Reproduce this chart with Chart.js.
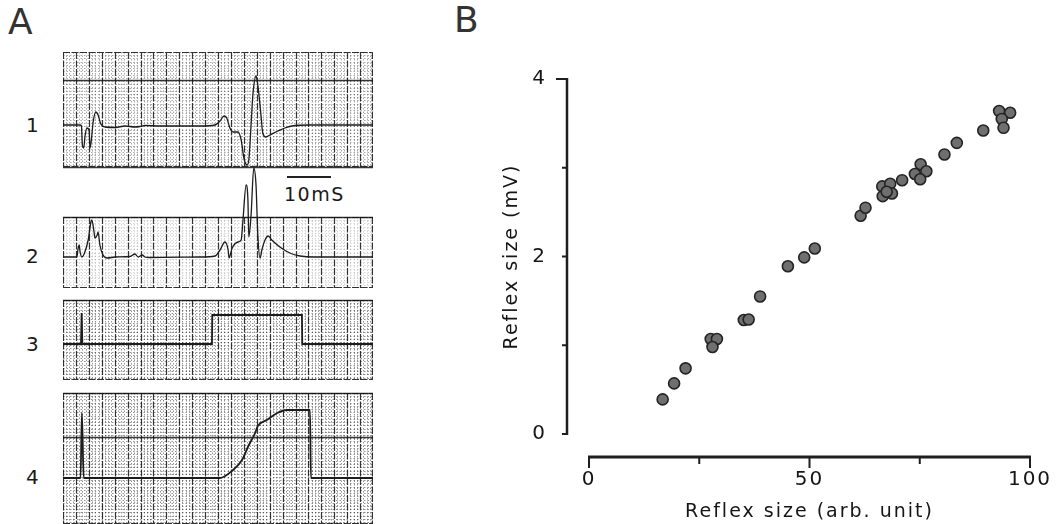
<!DOCTYPE html>
<html>
<head>
<meta charset="utf-8">
<script src="https://cdn.jsdelivr.net/npm/chart.js@4.4.0/dist/chart.umd.min.js"></script>
<style>
body { margin: 0; background: #fff; }
#wrap { position: relative; width: 1060px; height: 524px; overflow: hidden; font-family: "DejaVu Sans", sans-serif; color: #1a1a1a; }
#wrap canvas { position: absolute; }
.lbl { position: absolute; line-height: 1; white-space: nowrap; }
</style>
</head>
<body>
<div id="wrap">
  <div class="lbl" style="left:8px;top:4px;font-size:36px;color:#333">A</div>
  <div class="lbl" style="left:454px;top:2px;font-size:36px;color:#333">B</div>
  <div class="lbl" style="left:26px;top:115px;font-size:20px">1</div>
  <div class="lbl" style="left:26px;top:246px;font-size:20px">2</div>
  <div class="lbl" style="left:26px;top:334px;font-size:20px">3</div>
  <div class="lbl" style="left:26px;top:467px;font-size:20px">4</div>
  <div style="position:absolute;left:287px;top:176px;width:44px;height:2px;background:#222"></div>
  <div class="lbl" style="left:284px;top:185px;font-size:19px;letter-spacing:1.5px">10mS</div>
  <canvas id="tr1" width="310" height="124" style="left:63px;top:48px"></canvas>
  <canvas id="tr2" width="310" height="126" style="left:63px;top:164px"></canvas>
  <canvas id="tr3" width="310" height="86" style="left:63px;top:297px"></canvas>
  <canvas id="tr4" width="310" height="134" style="left:63px;top:390px"></canvas>
  <canvas id="scatter" width="590" height="484" style="left:470px;top:40px"></canvas>
</div>
<script>
// panel A traces: time (ms) and amplitude (arbitrary units, 0 = baseline)
const t1 = [0, 3.8, 4.1, 4.3, 4.6, 4.9, 5.3, 5.8, 6.0, 6.3, 6.7, 7.3, 7.8, 8.4, 9.3, 11.6, 13.8, 16.0, 17.1, 18.2, 21.6, 30.4, 33.8, 34.9, 35.8, 36.4, 37.1, 37.8, 38.9, 39.6, 40.2, 40.9, 41.3, 41.8, 42.2, 42.9, 43.3, 44.0, 44.4, 45.1, 46.0, 47.8, 49.3, 50.9, 54.9, 68.9];
const v1 = [0, 0, -0.1, -2.0, -2.3, -1.1, -0.3, -0.5, -2.3, -1.5, 0.3, 1.3, 1.0, 0.1, -0.2, -0.25, -0.1, -0.2, -0.15, -0.05, -0.1, -0.1, 0, 0.4, 0.9, 0.7, -0.3, -0.7, -0.7, -1.5, -3.3, -4.0, -3.5, 0, 3.0, 4.9, 4.0, 1.0, -0.8, -1.2, -1.0, -0.6, -0.3, -0.1, 0, 0];
const t2 = [0, 3.1, 3.3, 3.6, 3.8, 4.2, 4.7, 5.6, 6.2, 6.4, 6.9, 7.1, 7.6, 7.8, 8.2, 8.9, 9.8, 11.6, 14.9, 16.0, 16.7, 17.6, 18.2, 19.3, 30.4, 33.8, 34.9, 36.0, 36.7, 36.9, 37.6, 38.9, 39.6, 40.0, 40.7, 41.1, 41.3, 41.8, 42.4, 42.9, 43.3, 43.8, 44.2, 44.9, 45.6, 46.4, 48.2, 50.4, 52.7, 55.6, 68.9];
const v2 = [0, 0, 0.7, 1.2, 0.5, 0, 0.3, 1.7, 3.5, 3.7, 2.5, 1.9, 2.2, 2.5, 1.2, 0.2, -0.1, 0, 0.05, 0.3, 0, 0.2, 0, -0.05, 0, 0.1, 0.7, 1.5, 0.7, -0.1, 0.9, 1.5, 1.7, 3.7, 7.2, 5.7, 2.0, 4.2, 8.9, 7.2, 2.2, -0.1, 0.7, 1.7, 2.1, 1.7, 1.0, 0.4, 0.1, 0, 0];
const t3 = [0, 4.0, 4.15, 4.3, 33.1, 33.18, 53.1, 53.18, 68.9];
const v3 = [0, 0, 3.1, 0, 0, 2.9, 2.9, 0, 0];
const t4 = [0, 3.9, 4.2, 4.6, 34.9, 37.8, 39.8, 41.1, 42.7, 43.3, 45.3, 47.6, 49.8, 54.9, 55.1, 68.9];
const v4 = [0, 0, 6.5, 0, 0, 0.8, 1.8, 3.1, 4.5, 5.2, 5.8, 6.5, 6.8, 6.8, 0, 0];

// panel B scatter
const reflexArb = [16.7, 19.3, 21.9, 27.6, 29.0, 28.0, 35.1, 36.2, 38.8, 45.1, 48.8, 51.2, 61.6, 62.7, 66.5, 68.3, 66.6, 68.7, 67.5, 71.0, 73.9, 75.2, 76.5, 75.1, 80.6, 83.4, 89.4, 93.0, 95.5, 93.6, 94.0];
const reflexMV = [0.39, 0.57, 0.74, 1.07, 1.07, 0.98, 1.285, 1.29, 1.55, 1.89, 1.99, 2.09, 2.46, 2.55, 2.79, 2.82, 2.68, 2.71, 2.73, 2.86, 2.93, 3.04, 2.96, 2.87, 3.15, 3.28, 3.42, 3.64, 3.62, 3.55, 3.45];
const xTicks = [0, 25, 50, 75, 100];
const yTicks = [0, 1, 2, 3, 4];

const FONT = '"DejaVu Sans", sans-serif';

// chart-paper background under each trace
const paperGrid = {
  id: 'paperGrid',
  beforeDatasetsDraw(chart, args, o) {
    const ctx = chart.ctx, a = chart.chartArea;
    const top = o.top, bottom = o.bottom;
    const step = (a.right - a.left) / 24;
    ctx.save();
    ctx.lineWidth = 1;
    ctx.strokeStyle = 'rgba(0,0,0,' + o.minor + ')';
    ctx.setLineDash([1.5, 2]);
    ctx.beginPath();
    for (let y = top + step / 4; y < bottom - 1; y += step / 4) {
      ctx.moveTo(a.left, Math.round(y) + 0.5);
      ctx.lineTo(a.right, Math.round(y) + 0.5);
    }
    for (let i = 1; i < 96; i++) {
      if (i % 4 === 0) continue;
      const x = Math.round(a.left + i * step / 4) + 0.5;
      ctx.moveTo(x, top);
      ctx.lineTo(x, bottom);
    }
    ctx.stroke();
    ctx.strokeStyle = 'rgba(15,15,15,0.85)';
    ctx.lineWidth = 1.2;
    ctx.setLineDash([7, 1.5]);
    ctx.beginPath();
    for (let i = 0; i <= 24; i++) {
      const x = Math.min(a.right - 0.6, Math.round(a.left + i * step) + 0.5);
      ctx.moveTo(x, top);
      ctx.lineTo(x, bottom);
    }
    ctx.moveTo(a.left, top + 0.5);
    ctx.lineTo(a.right, top + 0.5);
    ctx.moveTo(a.left, bottom - 0.5);
    ctx.lineTo(a.right, bottom - 0.5);
    ctx.stroke();
    ctx.setLineDash([]);
    ctx.strokeStyle = 'rgba(20,20,20,0.85)';
    ctx.lineWidth = 1.3;
    ctx.beginPath();
    o.lines.forEach(y => { ctx.moveTo(a.left, y); ctx.lineTo(a.right, y); });
    ctx.stroke();
    ctx.restore();
  }
};

// canvas top, baseline, grid top/bottom and solid lines, all in page px
const panels = [
  { id: 'tr1', t: t1, v: v1, top: 48, h: 124, base: 125, gTop: 52, gBot: 167, lines: [80, 167], minor: 0.33, w: 1.3, smooth: true },
  { id: 'tr2', t: t2, v: v2, top: 164, h: 126, base: 257, gTop: 217, gBot: 288, lines: [217], minor: 0.16, w: 1.3, smooth: true },
  { id: 'tr3', t: t3, v: v3, top: 297, h: 86, base: 344, gTop: 300, gBot: 380, lines: [300], minor: 0.42, w: 1.8, smooth: false },
  { id: 'tr4', t: t4, v: v4, top: 390, h: 134, base: 478, gTop: 393, gBot: 524, lines: [393, 437], minor: 0.42, w: 1.8, smooth: true }
];

panels.forEach(p => {
  new Chart(document.getElementById(p.id), {
    type: 'line',
    data: {
      datasets: [{
        data: p.t.map((x, i) => ({ x: x, y: p.v[i] })),
        borderColor: '#1c1c1c',
        borderWidth: p.w,
        pointRadius: 0,
        fill: false,
        tension: 0,
        cubicInterpolationMode: p.smooth ? 'monotone' : 'default'
      }]
    },
    options: {
      responsive: false,
      animation: false,
      layout: { padding: 0 },
      plugins: {
        legend: { display: false },
        tooltip: { enabled: false },
        paperGrid: { top: p.gTop - p.top, bottom: Math.min(p.gBot, p.top + p.h) - p.top, lines: p.lines.map(y => y - p.top + 0.5), minor: p.minor }
      },
      scales: {
        x: { type: 'linear', display: false, min: 0, max: 68.9 },
        y: { type: 'linear', display: false, min: (p.base - p.top - p.h) / 10, max: (p.base - p.top) / 10 }
      }
    },
    plugins: [paperGrid]
  });
});

// detached axes drawn from the scatter chart's scales
const detachedAxes = {
  id: 'detachedAxes',
  beforeDraw(chart) { chart.ctx.letterSpacing = '2px'; },
  afterDraw(chart) {
    const ctx = chart.ctx, xs = chart.scales.x, ys = chart.scales.y;
    const ax = xs.getPixelForValue(0) - 22;
    const ay = ys.getPixelForValue(0) + 23;
    ctx.save();
    ctx.strokeStyle = '#1e1e1e';
    ctx.lineCap = 'butt';
    ctx.lineWidth = 2.5;
    ctx.beginPath();
    ctx.moveTo(ax, ys.getPixelForValue(4) - 1);
    ctx.lineTo(ax, ys.getPixelForValue(0) + 1);
    ctx.stroke();
    ctx.lineWidth = 2;
    ctx.beginPath();
    yTicks.forEach(v => {
      const y = ys.getPixelForValue(v);
      const len = v === 4 ? 11 : 5;
      ctx.moveTo(ax - len, y);
      ctx.lineTo(ax, y);
    });
    ctx.stroke();
    ctx.lineWidth = 3;
    ctx.beginPath();
    ctx.moveTo(xs.getPixelForValue(0) - 1, ay);
    ctx.lineTo(xs.getPixelForValue(100) + 1, ay);
    ctx.stroke();
    ctx.lineWidth = 2;
    ctx.beginPath();
    xTicks.forEach(v => {
      const x = xs.getPixelForValue(v);
      const len = v % 50 === 0 ? 11 : 7;
      ctx.moveTo(x, ay);
      ctx.lineTo(x, ay + len);
    });
    ctx.stroke();
    ctx.restore();
  }
};

new Chart(document.getElementById('scatter'), {
  type: 'scatter',
  data: {
    datasets: [{
      data: reflexArb.map((x, i) => ({ x: x, y: reflexMV[i] })),
      pointRadius: 5.5,
      backgroundColor: '#6f6f6f',
      borderColor: '#242424',
      borderWidth: 1.6
    }]
  },
  options: {
    responsive: false,
    animation: false,
    layout: { padding: { top: 39, right: 30, left: 0, bottom: 0 } },
    plugins: { legend: { display: false }, tooltip: { enabled: false } },
    scales: {
      x: {
        type: 'linear', min: 0, max: 100,
        afterFit(s) { s.height = 90; s.paddingLeft = 0; s.paddingRight = 0; },
        grid: { display: false, drawTicks: false },
        border: { display: false },
        ticks: { stepSize: 25, autoSkip: false, maxRotation: 0, padding: 34, color: '#151515', font: { family: FONT, size: 20 },
          callback: v => (v % 50 === 0 ? v : '') },
        title: { display: true, text: 'Reflex size (arb. unit)', color: '#151515', font: { family: FONT, size: 19 }, padding: { top: 0, bottom: 1 } }
      },
      y: {
        type: 'linear', min: 0, max: 4,
        afterFit(s) { s.width = 119; s.paddingTop = 0; s.paddingBottom = 0; },
        grid: { display: false, drawTicks: false },
        border: { display: false },
        ticks: { stepSize: 1, autoSkip: false, padding: 42, color: '#151515', font: { family: FONT, size: 20 },
          callback: v => (v % 2 === 0 ? v : '') },
        title: { display: true, text: 'Reflex size (mV)', color: '#151515', font: { family: FONT, size: 19 }, padding: { top: 31, bottom: 0 } }
      }
    }
  },
  plugins: [detachedAxes]
});
</script>
</body>
</html>
